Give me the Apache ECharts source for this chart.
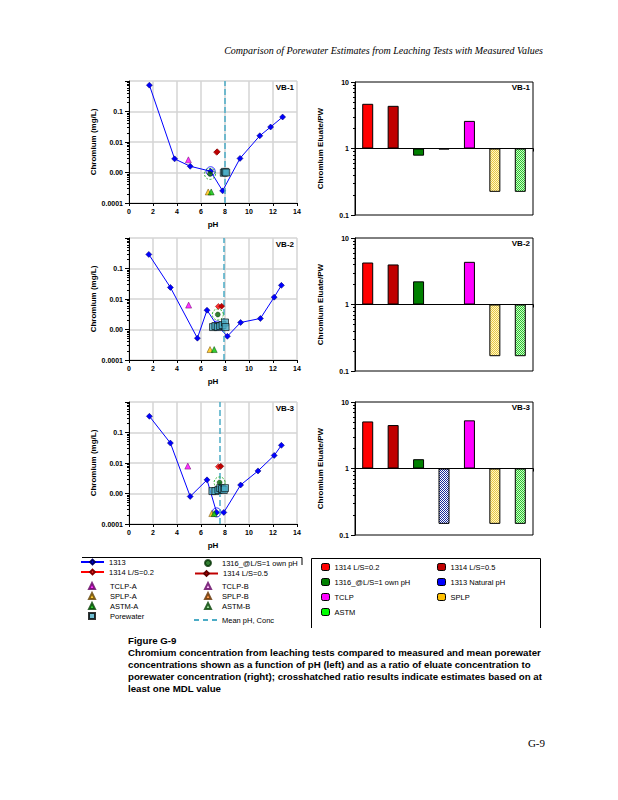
<!DOCTYPE html>
<html><head><meta charset="utf-8">
<script src="https://cdn.jsdelivr.net/npm/echarts@6/dist/echarts.min.js"></script>
<style>html,body{margin:0;padding:0;background:#fff}#c{width:618px;height:800px}</style>
</head><body><div id="c"></div>
<script>
// ---------------- DATA ----------------
const panelNames = ['VB-1', 'VB-2', 'VB-3'];
const pHTicks = [0, 2, 4, 6, 8, 10, 12, 14];
const concTickLabels = { '-4': '0.0001', '-3': '0.00', '-2': '0.01', '-1': '0.1', '0': '' };
const ratioTickLabels = { '-1': '0.1', '0': '1', '1': '10' };

// 1313 (pH dependence) [pH, mg/L]
const vb1_1313 = [[1.7, 0.73], [3.8, 0.0028], [5.1, 0.0016], [6.8, 0.0011], [7.8, 0.00025], [9.25, 0.0029], [10.9, 0.016], [11.8, 0.031], [12.8, 0.066]];
const vb2_1313 = [[1.65, 0.29], [3.45, 0.024], [5.7, 0.00052], [6.5, 0.0043], [7.35, 0.00135], [8.2, 0.0006], [9.3, 0.0017], [10.95, 0.0023], [12.1, 0.0115], [12.7, 0.028]];
const vb3_1313 = [[1.7, 0.34], [3.45, 0.045], [5.1, 0.0008], [6.5, 0.0028], [7.3, 0.00024], [7.9, 0.00024], [9.3, 0.0019], [10.75, 0.0055], [12.1, 0.0177], [12.7, 0.038]];
// 1313 natural pH point (open circle)
const vb1_nat = [[6.8, 0.0011]];
const vb2_nat = [[7.35, 0.00135]];
const vb3_nat = [[7.3, 0.00024]];
// 1316 own pH
const vb1_1316 = [[6.75, 0.0009]];
const vb2_1316 = [[7.4, 0.0031]];
const vb3_1316 = [[7.55, 0.0023]];
// 1314
const vb1_1314a = [[7.3, 0.0046]], vb1_1314b = [[7.35, 0.0048]];
const vb2_1314a = [[7.45, 0.0057]], vb2_1314b = [[7.72, 0.0058]];
const vb3_1314a = [[7.45, 0.0076]], vb3_1314b = [[7.65, 0.0078]];
// TCLP / SPLP / ASTM
const vb1_tclpA = [[4.95, 0.0026]], vb2_tclpA = [[4.97, 0.0063]], vb3_tclpA = [[4.9, 0.0079]];
const vb1_splpA = [[6.6, 0.00023]], vb2_splpA = [[6.75, 0.00022]], vb3_splpA = [[6.9, 0.00022]];
const vb1_astmA = [[6.85, 0.00023]], vb2_astmA = [[7.1, 0.00022]], vb3_astmA = [[7.1, 0.00022]];
// Porewater
const vb1_pore = [[7.9, 0.00098], [8.0, 0.00105], [8.1, 0.001]];
const vb2_pore = [[7.0, 0.0012], [7.2, 0.0013], [7.4, 0.0012], [7.6, 0.0013], [7.8, 0.0014], [8.0, 0.0017], [8.05, 0.0012]];
const vb3_pore = [[6.95, 0.0012], [7.2, 0.0012], [7.45, 0.0013], [7.6, 0.0015], [7.75, 0.0014], [7.9, 0.0013], [8.0, 0.0015]];
// mean pH, mean conc, LOQ, ML
const meanPH = [8.0, 7.9, 7.6];
const meanConc = [0.001, 0.00145, 0.0016];
const loqConc = [0.001, 0.001, 0.001];
const mlConc = [0.00049, 0.00046, 0.00047];

// Ratio bars (Eluate / PW)
const ratioCats = ['1314 L/S=0.2', '1314 L/S=0.5', '1316_@L/S=1 own pH', '1313 Natural pH', 'TCLP', 'SPLP', 'ASTM'];
const ratioVB1 = [4.7, 4.38, 0.78, 0.97, 2.6, 0.223, 0.223];
const ratioVB2 = [4.28, 4.0, 2.23, null, 4.38, 0.167, 0.167];
const ratioVB3 = [5.1, 4.5, 1.38, 0.147, 5.3, 0.147, 0.147];

// ---------------- BUILD ----------------
const P = [
  { s1313: vb1_1313, nat: vb1_nat, s1316: vb1_1316, a: vb1_1314a, b: vb1_1314b, tclp: vb1_tclpA, splp: vb1_splpA, astm: vb1_astmA, pore: vb1_pore, ratio: ratioVB1 },
  { s1313: vb2_1313, nat: vb2_nat, s1316: vb2_1316, a: vb2_1314a, b: vb2_1314b, tclp: vb2_tclpA, splp: vb2_splpA, astm: vb2_astmA, pore: vb2_pore, ratio: ratioVB2 },
  { s1313: vb3_1313, nat: vb3_nat, s1316: vb3_1316, a: vb3_1314a, b: vb3_1314b, tclp: vb3_tclpA, splp: vb3_splpA, astm: vb3_astmA, pore: vb3_pore, ratio: ratioVB3 }
];

function pattern(c1, c2) {
  const cv = document.createElement('canvas'); cv.width = 2; cv.height = 2;
  const g = cv.getContext('2d');
  g.fillStyle = c2; g.fillRect(0, 0, 2, 2);
  g.fillStyle = c1; g.fillRect(0, 0, 1, 1); g.fillRect(1, 1, 1, 1);
  return { image: cv.toDataURL(), repeat: 'repeat' };
}
const barColors = ['#ff0000', '#c00000', '#008000', pattern('#1a2a9a', '#ffffff'), '#ff00ff', pattern('#e8c840', '#fff6c8'), pattern('#30c030', '#c8ffc8')];
const legendBarColors = ['#ff0000', '#c00000', '#008000', '#0000ff', '#ff00ff', '#ffc000', '#00ff00'];

const FONT = 'Liberation Sans';
const leftTops = [81, 238, 402], rightTops = [82, 238, 402];
const grids = [], xAxes = [], yAxes = [], series = [];
const minorConc = [], minorRatio = [];
for (let d = -4; d <= -1; d++) for (let k = 2; k <= 9; k++) minorConc.push(d + Math.log10(k));
for (let d = -1; d <= 0; d++) for (let k = 2; k <= 9; k++) minorRatio.push(d + Math.log10(k));

const axLabel = { fontFamily: FONT, fontSize: 7, fontWeight: 'bold', color: '#000' };
const nameStyle = { fontFamily: FONT, fontSize: 8, fontWeight: 'bold', color: '#000' };

P.forEach((p, i) => {
  // left grid
  const gl = grids.length;
  grids.push({ left: 129, top: leftTops[i], width: 168, height: 122 });
  xAxes.push({ gridIndex: gl, type: 'value', min: pHTicks[0], max: pHTicks[pHTicks.length - 1], interval: 2,
    name: 'pH', nameLocation: 'middle', nameGap: 17, nameTextStyle: nameStyle,
    axisLine: { show: true, onZero: false, lineStyle: { color: '#000', width: 1 } },
    axisTick: { show: true, length: 3, lineStyle: { color: '#000' } },
    axisLabel: Object.assign({ margin: 5 }, axLabel),
    splitLine: { show: true, lineStyle: { color: '#d4d4d4', width: 1.5 } } });
  const yl = yAxes.length;
  yAxes.push({ gridIndex: gl, type: 'log', logBase: 10, min: 0.0001, max: 1,
    name: 'Chromium (mg/L)', nameLocation: 'middle', nameGap: 30, nameTextStyle: nameStyle,
    axisLine: { show: true, onZero: false, lineStyle: { color: '#000', width: 1 } },
    axisTick: { show: true, length: 4, lineStyle: { color: '#000' } },
    axisLabel: Object.assign({ margin: 6, formatter: v => concTickLabels[String(Math.round(Math.log10(v)))] }, axLabel),
    splitLine: { show: true, lineStyle: { color: '#d4d4d4', width: 1.5 } } });
  yAxes.push({ gridIndex: gl, type: 'value', min: -4, max: 0, position: 'left',
    axisLine: { show: false }, axisLabel: { show: false }, splitLine: { show: false },
    axisTick: { show: true, length: 2, customValues: minorConc, lineStyle: { color: '#000' } } });

  const base = { xAxisIndex: gl, yAxisIndex: yl };
  series.push(Object.assign({ type: 'line', name: 'limits', data: [], z: 1, symbol: 'none',
    markLine: { silent: true, symbol: ['none', 'none'], data: [
      { yAxis: loqConc[i], lineStyle: { color: '#c00000', type: [6, 3], width: 1.5 },
        label: { show: true, formatter: 'LOQ', position: 'insideEndTop', color: '#c00000', fontSize: 6.5, fontFamily: FONT, distance: 1 } },
      { yAxis: mlConc[i], lineStyle: { color: '#c00000', type: 'solid', width: 1 },
        label: { show: true, formatter: 'ML', position: 'insideEndBottom', color: '#c00000', fontSize: 6.5, fontFamily: FONT, distance: 2 } }
    ] } }, base));
  series.push(Object.assign({ type: 'line', name: 'Mean pH, Conc', data: [], z: 2, symbol: 'none',
    lineStyle: { color: '#4bacc6', type: [6, 3], width: 1.5 }, itemStyle: { color: '#4bacc6' },
    markLine: { silent: true, symbol: ['none', 'none'], label: { show: false },
      lineStyle: { color: '#4bacc6', type: [6, 3], width: 1.5 },
      data: [{ xAxis: meanPH[i] }, { yAxis: meanConc[i] }] } }, base));
  series.push(Object.assign({ type: 'line', name: '1313', data: p.s1313, z: 4, symbol: 'diamond', symbolSize: 6,
    lineStyle: { color: '#0000ff', width: 1 }, itemStyle: { color: '#0000ff', borderColor: '#000060', borderWidth: 0.5 } }, base));
  series.push(Object.assign({ type: 'scatter', name: '1313 own-pH ring', data: p.nat, z: 4, symbol: 'circle', symbolSize: 9,
    itemStyle: { color: 'rgba(0,0,0,0)', borderColor: '#0000ff', borderWidth: 1 } }, base));
  series.push(Object.assign({ type: 'scatter', name: '1316_@L/S=1 own pH', data: p.s1316, z: 5, symbol: 'circle', symbolSize: 5,
    itemStyle: { color: '#006000', borderColor: '#003000', borderWidth: 0.5 } }, base));
  series.push(Object.assign({ type: 'scatter', name: '1316 ring', data: p.s1316, z: 5, symbol: 'circle', symbolSize: 11,
    itemStyle: { color: 'rgba(0,0,0,0)', borderColor: '#00a000', borderWidth: 1, borderType: [2, 1.5] } }, base));
  series.push(Object.assign({ type: 'line', name: '1314 L/S=0.2 ', data: p.a, z: 5, symbol: 'diamond', symbolSize: 6,
    lineStyle: { color: '#ff0000', width: 1 }, itemStyle: { color: '#ff3030', borderColor: '#800000', borderWidth: 0.5 } }, base));
  series.push(Object.assign({ type: 'line', name: '1314 L/S=0.5 ', data: p.b, z: 5, symbol: 'diamond', symbolSize: 6,
    lineStyle: { color: '#c00000', width: 1 }, itemStyle: { color: '#c00000', borderColor: '#600000', borderWidth: 0.5 } }, base));
  const tri = (name, data, col, bc) => Object.assign({ type: 'scatter', name, data, z: 5, symbol: 'triangle', symbolSize: 6,
    itemStyle: { color: col, borderColor: bc, borderWidth: 0.6 } }, base);
  series.push(tri('TCLP-A', p.tclp, '#ff00ff', '#600060'));
  series.push(tri('TCLP-B', [], '#ffb0ff', '#600060'));
  series.push(tri('SPLP-A', p.splp, '#ffc000', '#604000'));
  series.push(tri('SPLP-B', [], '#ff8020', '#603000'));
  series.push(tri('ASTM-A', p.astm, '#00c000', '#004000'));
  series.push(tri('ASTM-B', [], '#80d080', '#004000'));
  series.push(Object.assign({ type: 'scatter', name: 'Porewater', data: p.pore, z: 6, symbol: 'rect', symbolSize: 7,
    itemStyle: { color: '#4bacc6', borderColor: '#000', borderWidth: 0.8 } }, base));

  // right grid
  const gr = grids.length;
  grids.push({ left: 355, top: rightTops[i], width: 178, height: 133, show: true, borderColor: '#000', borderWidth: 1, backgroundColor: 'rgba(0,0,0,0)' });
  xAxes.push({ gridIndex: gr, type: 'category', data: ratioCats,
    axisLine: { show: true, onZero: true, lineStyle: { color: '#000', width: 1 } },
    axisTick: { show: true, length: 3, lineStyle: { color: '#000' } },
    axisLabel: { show: false }, splitLine: { show: false } });
  const yr = yAxes.length;
  yAxes.push({ gridIndex: gr, type: 'value', min: -1, max: 1, interval: 1,
    name: 'Chromium Eluate/PW', nameLocation: 'middle', nameGap: 31, nameTextStyle: nameStyle,
    axisLine: { show: true, lineStyle: { color: '#000' } },
    axisTick: { show: true, length: 4, lineStyle: { color: '#000' } },
    axisLabel: Object.assign({ margin: 6, formatter: v => ratioTickLabels[String(Math.round(v))] }, axLabel),
    splitLine: { show: false } });
  yAxes.push({ gridIndex: gr, type: 'value', min: -1, max: 1, position: 'left',
    axisLine: { show: false }, axisLabel: { show: false }, splitLine: { show: false },
    axisTick: { show: true, length: 2, customValues: minorRatio, lineStyle: { color: '#000' } } });
  ratioCats.forEach((c, j) => {
    const nm = j === 2 ? c + ' ' : c;
    series.push({ type: 'bar', name: nm, xAxisIndex: gr, yAxisIndex: yr, barWidth: 11, barGap: '-100%',
      data: ratioCats.map((_, k) => (k === j && p.ratio[k] != null) ? Math.log10(p.ratio[k]) : null),
      itemStyle: { color: barColors[j], borderColor: '#000', borderWidth: 1 } });
  });
});

const legText = { fontFamily: FONT, fontSize: 7.5, color: '#000' };
const lineLeg = (left, top, data, extra) => Object.assign({ left, top, orient: 'vertical', padding: 0, itemGap: 2,
  itemWidth: 23, itemHeight: 6, textStyle: legText, data }, extra || {});
const symLeg = (left, top, data, pad) => ({ left, top, orient: 'vertical', padding: 0, itemGap: 2,
  itemWidth: 6, itemHeight: 6, textStyle: Object.assign({ padding: [0, 0, 0, pad] }, legText), data });
const dashIcon = 'path://M0,0h5v1h-5z M9,0h5v1h-5z M18,0h5v1h-5z';
const legends = [
  lineLeg(80, 558, ['1313', '1314 L/S=0.2 ']),
  symLeg(88, 582, ['TCLP-A', 'SPLP-A', 'ASTM-A', 'Porewater'], 10),
  symLeg(204, 559, ['1316_@L/S=1 own pH'], 6),
  lineLeg(194, 569.5, ['1314 L/S=0.5 ']),
  symLeg(204, 582, ['TCLP-B', 'SPLP-B', 'ASTM-B'], 6),
  lineLeg(194, 616, [{ name: 'Mean pH, Conc', icon: dashIcon }], { itemHeight: 2, symbolKeepAspect: false }),
  { left: 321, top: 563, orient: 'vertical', padding: 0, itemGap: 7, itemWidth: 8, itemHeight: 7, textStyle: legText,
    icon: 'roundRect', itemStyle: { borderColor: '#000', borderWidth: 1 },
    data: [0, 2, 4, 6].map(j => ({ name: j === 2 ? ratioCats[j] + ' ' : ratioCats[j], itemStyle: { color: legendBarColors[j], borderColor: '#000', borderWidth: 1 } })) },
  { left: 437, top: 563, orient: 'vertical', padding: 0, itemGap: 7, itemWidth: 8, itemHeight: 7, textStyle: legText,
    icon: 'roundRect', itemStyle: { borderColor: '#000', borderWidth: 1 },
    data: [1, 3, 5].map(j => ({ name: ratioCats[j], itemStyle: { color: legendBarColors[j], borderColor: '#000', borderWidth: 1 } })) }
];

const txt = (x, y, text, font, align, extra) => ({ type: 'text', x, y, silent: true,
  style: Object.assign({ text, font, fill: '#000', textAlign: align || 'left', verticalAlign: 'middle' }, extra || {}) });
const capFont = 'bold 9.7px "Liberation Sans"';
const graphics = [
  txt(543, 50, 'Comparison of Porewater Estimates from Leaching Tests with Measured Values', 'italic 10px "Liberation Serif"', 'right'),
  txt(128, 640, 'Figure G-9', capFont),
  txt(128, 652, 'Chromium concentration from leaching tests compared to measured and mean porewater', capFont),
  txt(128, 664, 'concentrations shown as a function of pH (left) and as a ratio of eluate concentration to', capFont),
  txt(128, 676, 'porewater concentration (right); crosshatched ratio results indicate estimates based on at', capFont),
  txt(128, 688, 'least one MDL value', capFont),
  txt(545, 743, 'G-9', '11px "Liberation Serif"', 'right'),
  { type: 'polyline', silent: true, shape: { points: [[82, 557.5], [302, 557.5], [302, 565]] }, style: { stroke: '#000', lineWidth: 1, fill: null } },
  { type: 'polyline', silent: true, shape: { points: [[311.5, 628], [311.5, 558.5], [540.5, 558.5], [540.5, 628]] }, style: { stroke: '#000', lineWidth: 1, fill: null } }
];
panelNames.forEach((n, i) => {
  graphics.push(txt(294, leftTops[i] + 6, n, 'bold 8px "Liberation Sans"', 'right'));
  graphics.push(txt(530, rightTops[i] + 5, n, 'bold 8px "Liberation Sans"', 'right'));
});

const chart = echarts.init(document.getElementById('c'), null, { renderer: 'svg', width: 618, height: 800 });
chart.setOption({
  animation: false,
  backgroundColor: '#fff',
  textStyle: { fontFamily: FONT },
  grid: grids, xAxis: xAxes, yAxis: yAxes, series, legend: legends, graphic: graphics
});
</script></body></html>
